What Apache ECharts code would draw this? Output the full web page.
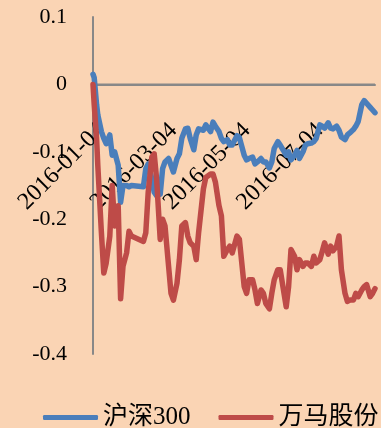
<!DOCTYPE html>
<html>
<head>
<meta charset="utf-8">
<script src="https://cdn.jsdelivr.net/npm/echarts@6/dist/echarts.min.js"></script>
<style>
  html, body { margin: 0; padding: 0; background: #FAD4B4; }
  #chart { width: 381px; height: 428px; }
</style>
</head>
<body>
<div id="chart"></div>
<script>
// sampled trading days
const dates = [
  '2016-01-04','2016-01-05','2016-01-07','2016-01-08','2016-01-11','2016-01-13','2016-01-15',
  '2016-01-18','2016-01-20','2016-01-22','2016-01-25','2016-01-27','2016-01-29','2016-02-01',
  '2016-02-03','2016-02-05','2016-02-15','2016-02-17','2016-02-19','2016-02-22','2016-02-24',
  '2016-02-26','2016-02-29','2016-03-02','2016-03-04','2016-03-07','2016-03-09','2016-03-11',
  '2016-03-14','2016-03-16','2016-03-18','2016-03-21','2016-03-23','2016-03-25','2016-03-28',
  '2016-03-30','2016-04-01','2016-04-05','2016-04-07','2016-04-11','2016-04-13','2016-04-15',
  '2016-04-18','2016-04-20','2016-04-22','2016-04-25','2016-04-27','2016-04-29','2016-05-03',
  '2016-05-05','2016-05-09','2016-05-11','2016-05-13','2016-05-16','2016-05-18','2016-05-20',
  '2016-05-23','2016-05-25','2016-05-27','2016-05-30','2016-06-01','2016-06-03','2016-06-06',
  '2016-06-08','2016-06-13','2016-06-15','2016-06-17','2016-06-20','2016-06-22','2016-06-24',
  '2016-06-27','2016-06-29','2016-07-01','2016-07-04','2016-07-06','2016-07-08','2016-07-11',
  '2016-07-13','2016-07-15','2016-07-18','2016-07-20','2016-07-22','2016-07-25','2016-07-27',
  '2016-07-29','2016-08-01','2016-08-03','2016-08-05','2016-08-08','2016-08-10','2016-08-12',
  '2016-08-15','2016-08-17','2016-08-19','2016-08-22','2016-08-24','2016-08-26'
];

const hs300 = [
  0.015, 0.010, -0.030, -0.045, -0.070, -0.080, -0.088,
  -0.075, -0.105, -0.100, -0.120, -0.175, -0.150, -0.150,
  -0.152, -0.150, -0.152, -0.125, -0.118, -0.140, -0.160,
  -0.165, -0.163, -0.125, -0.115, -0.110, -0.120, -0.130,
  -0.110, -0.103, -0.080, -0.066, -0.065, -0.080, -0.097,
  -0.075, -0.066, -0.068, -0.060, -0.070, -0.056, -0.062,
  -0.070, -0.080, -0.085, -0.082, -0.090, -0.090, -0.076,
  -0.079, -0.105, -0.112, -0.110, -0.108, -0.118, -0.115,
  -0.110, -0.115, -0.115, -0.124, -0.115, -0.095, -0.085,
  -0.090, -0.105, -0.100, -0.112, -0.105, -0.098, -0.110,
  -0.100, -0.090, -0.088, -0.087, -0.085, -0.080, -0.060,
  -0.062, -0.065, -0.057, -0.065, -0.066, -0.062, -0.068,
  -0.078, -0.082, -0.075, -0.072, -0.067, -0.062, -0.055,
  -0.030, -0.024, -0.028, -0.034, -0.038, -0.042
];

const wanma = [
  0.000, -0.030, -0.080, -0.120, -0.220, -0.280, -0.265,
  -0.225, -0.150, -0.210, -0.180, -0.318, -0.270, -0.250,
  -0.218, -0.225, -0.233, -0.220, -0.160, -0.108, -0.103,
  -0.140, -0.230, -0.200, -0.210, -0.270, -0.310, -0.320,
  -0.295, -0.260, -0.210, -0.205, -0.225, -0.235, -0.240,
  -0.260, -0.220, -0.155, -0.138, -0.133, -0.133, -0.145,
  -0.180, -0.195, -0.255, -0.245, -0.240, -0.250, -0.225,
  -0.230, -0.300, -0.310, -0.290, -0.290, -0.305, -0.325,
  -0.305, -0.310, -0.325, -0.333, -0.310, -0.290, -0.275,
  -0.275, -0.330, -0.300, -0.245, -0.255, -0.275, -0.260,
  -0.270, -0.265, -0.265, -0.270, -0.255, -0.265, -0.260,
  -0.248, -0.235, -0.252, -0.240, -0.247, -0.240, -0.225,
  -0.275, -0.310, -0.322, -0.320, -0.320, -0.310, -0.315,
  -0.305, -0.300, -0.297, -0.315, -0.310, -0.303
];

const xTickDates = ['2016-01-04', '2016-03-04', '2016-05-04', '2016-07-04'];
const xMin = '2016-01-04';
const xMax = '2016-08-26';
const yTicks = [0.1, 0, -0.1, -0.2, -0.3, -0.4];

function localTime(s) {
    const p = s.split('-').map(Number);
    return new Date(p[0], p[1] - 1, p[2]).getTime();
}
function pad(n) { return n < 10 ? '0' + n : '' + n; }
function fmtDate(v) {
    const d = new Date(v);
    return d.getFullYear() + '-' + pad(d.getMonth() + 1) + '-' + pad(d.getDate());
}

const chart = echarts.init(document.getElementById('chart'));

const axisGray = '#888888';
const serif = '"Liberation Serif", "Times New Roman", serif';

// grid geometry, used to lift the date labels up to the zero line
const gridTop = 17, gridBottom = 74;
const gridH = 428 - gridTop - gridBottom;
const yMin = Math.min(...yTicks), yMax = Math.max(...yTicks);
const zeroOffset = -gridH * (0 - yMin) / (yMax - yMin);
// half thickness of the zero line, in data units (~1px)
const zeroHalf = (yMax - yMin) / gridH;

chart.setOption({
    backgroundColor: '#FAD4B4',
    animation: false,
    grid: { left: 93, right: 6, top: gridTop, bottom: gridBottom, containLabel: false, outerBoundsMode: 'none' },
    legend: {
        top: 400,
        left: 38,
        width: 343,
        orient: 'horizontal',
        icon: 'roundRect',
        itemWidth: 55,
        itemHeight: 5,
        itemGap: 28,
        textStyle: {
            fontSize: 25,
            color: '#000',
            fontFamily: '"Liberation Serif", "Noto Sans CJK SC", serif'
        },
        data: ['沪深300', '万马股份']
    },
    xAxis: {
        type: 'value',
        position: 'bottom',
        offset: zeroOffset,
        min: localTime(xMin),
        max: localTime(xMax),
        axisLine: { show: true, onZero: false, lineStyle: { color: axisGray, width: 2 } },
        axisTick: { show: false },
        splitLine: { show: false },
        axisLabel: {
            customValues: xTickDates.map(localTime),
            rotate: 45,
            margin: 34,
            verticalAlign: 'top',
            fontSize: 24,
            color: '#000',
            fontFamily: serif,
            formatter: v => fmtDate(v)
        }
    },
    yAxis: {
        type: 'value',
        min: yMin,
        max: yMax,
        interval: 0.1,
        axisLine: { show: true, onZero: false, lineStyle: { color: axisGray, width: 2 } },
        axisTick: { show: false },
        splitLine: { show: false },
        axisLabel: {
            margin: 26,
            fontSize: 22,
            color: '#000',
            fontFamily: serif,
            formatter: v => String(Math.round(v * 10) / 10)
        }
    },
    series: [
        {
            name: '沪深300',
            type: 'line',
            symbol: 'none',
            lineStyle: { color: '#4A7EBB', width: 5.5, cap: 'round', join: 'round' },
            itemStyle: { color: '#4A7EBB' },
            data: dates.map((d, i) => [localTime(d), hs300[i]]),
            // horizontal axis line at y = 0
            markArea: {
                silent: true,
                itemStyle: { color: axisGray },
                label: { show: false },
                data: [[{ yAxis: -zeroHalf }, { yAxis: zeroHalf }]]
            }
        },
        {
            name: '万马股份',
            type: 'line',
            symbol: 'none',
            lineStyle: { color: '#BE4B48', width: 5.5, cap: 'round', join: 'round' },
            itemStyle: { color: '#BE4B48' },
            data: dates.map((d, i) => [localTime(d), wanma[i]])
        }
    ]
});
</script>
</body>
</html>
